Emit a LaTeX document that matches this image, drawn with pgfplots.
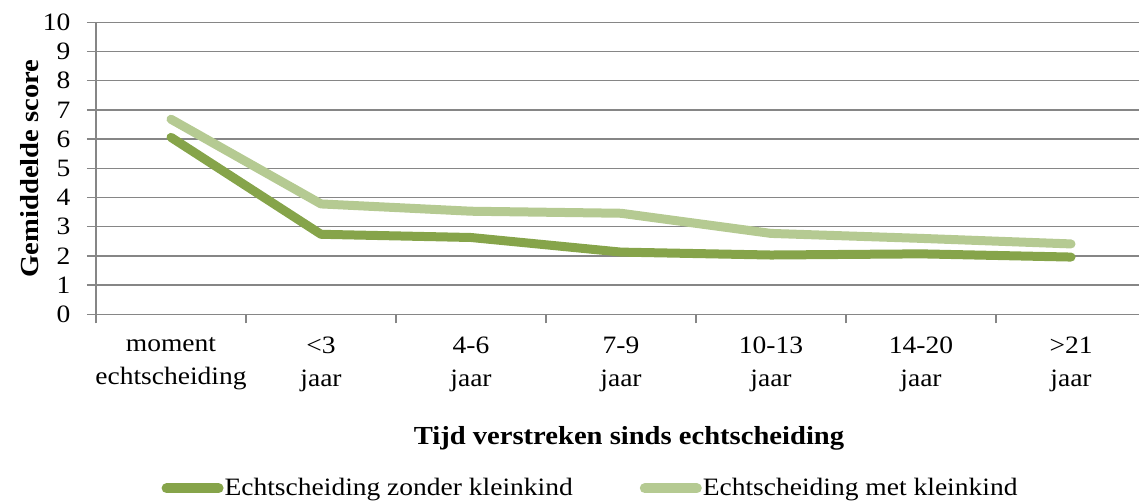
\documentclass[border=0pt]{standalone}
\usepackage{fontspec}
\setmainfont{Liberation Serif}[FakeStretch=1.1]
\usepackage{pgfplots}
\pgfplotsset{compat=1.18}
\definecolor{dk}{HTML}{86A44A}
\definecolor{lt}{HTML}{B5CA92}
\definecolor{gr}{HTML}{868686}
\begin{document}
\fontsize{12.5}{15.5}\selectfont
\begin{tikzpicture}
\useasboundingbox (-48pt,-93.85pt) rectangle (521.5pt,157.15pt);
\begin{axis}[
  at={(0pt,0pt)}, anchor=south west,
  width=525pt, height=146pt, scale only axis,
  xmin=-0.5, xmax=6.5, ymin=0, ymax=10,
  axis x line=bottom, axis y line=left,
  axis line style={gr, line width=0.75pt, -},
  ytick={0,1,...,10},
  ymajorgrids, grid style={gr, line width=0.75pt},
  tick align=outside, major tick length=4.5pt,
  tick style={gr, line width=0.75pt},
  xtick={-0.5,0.5,...,6.5}, xticklabels={},
  extra x ticks={0,1,2,3,4,5,6},
  extra x tick labels={moment\\echtscheiding, \textless3\\jaar, 4-6\\jaar, 7-9\\jaar, 10-13\\jaar, 14-20\\jaar, \textgreater21\\jaar},
  extra x tick style={major tick length=0pt, grid=none},
  xticklabel style={align=center, font=\fontsize{12.5}{16.5}\selectfont, yshift=-7pt},
  yticklabel style={font=\fontsize{12.5}{15}\selectfont, xshift=-4pt},
  /pgf/number format/assume math mode=true,
  xlabel={\textbf{Tijd verstreken sinds echtscheiding}},
  xlabel style={at={([xshift=4pt,yshift=-62pt]axis description cs:0.5,0)}, anchor=center, font=\fontsize{13}{15}\selectfont},
  ylabel={\textbf{Gemiddelde score}},
  ylabel style={at={([xshift=-33pt]axis description cs:0,0.5)}, anchor=center, font=\fontsize{13}{15}\selectfont},
  legend columns=2,
  legend style={at={([yshift=-87pt]axis description cs:0.4705,0)}, anchor=center, draw=none,
    font=\fontsize{12.5}{15}\selectfont, nodes={inner sep=0.5pt},
    /tikz/every even column/.append style={column sep=33pt}},
  legend image code/.code={\draw[#1, line cap=round, line width=5pt] (0pt,0pt) -- (26pt,0pt);},
]
\addplot[dk, line width=4.5pt, line cap=round, line join=round] coordinates {
  (0,6.06) (1,2.74) (2,2.63) (3,2.13) (4,2.03) (5,2.07) (6,1.96)};
\addlegendentry{Echtscheiding zonder kleinkind}
\addplot[lt, line width=4.5pt, line cap=round, line join=round] coordinates {
  (0,6.68) (1,3.78) (2,3.53) (3,3.46) (4,2.77) (5,2.60) (6,2.41)};
\addlegendentry{Echtscheiding met kleinkind}
\end{axis}
\end{tikzpicture}
\end{document}
